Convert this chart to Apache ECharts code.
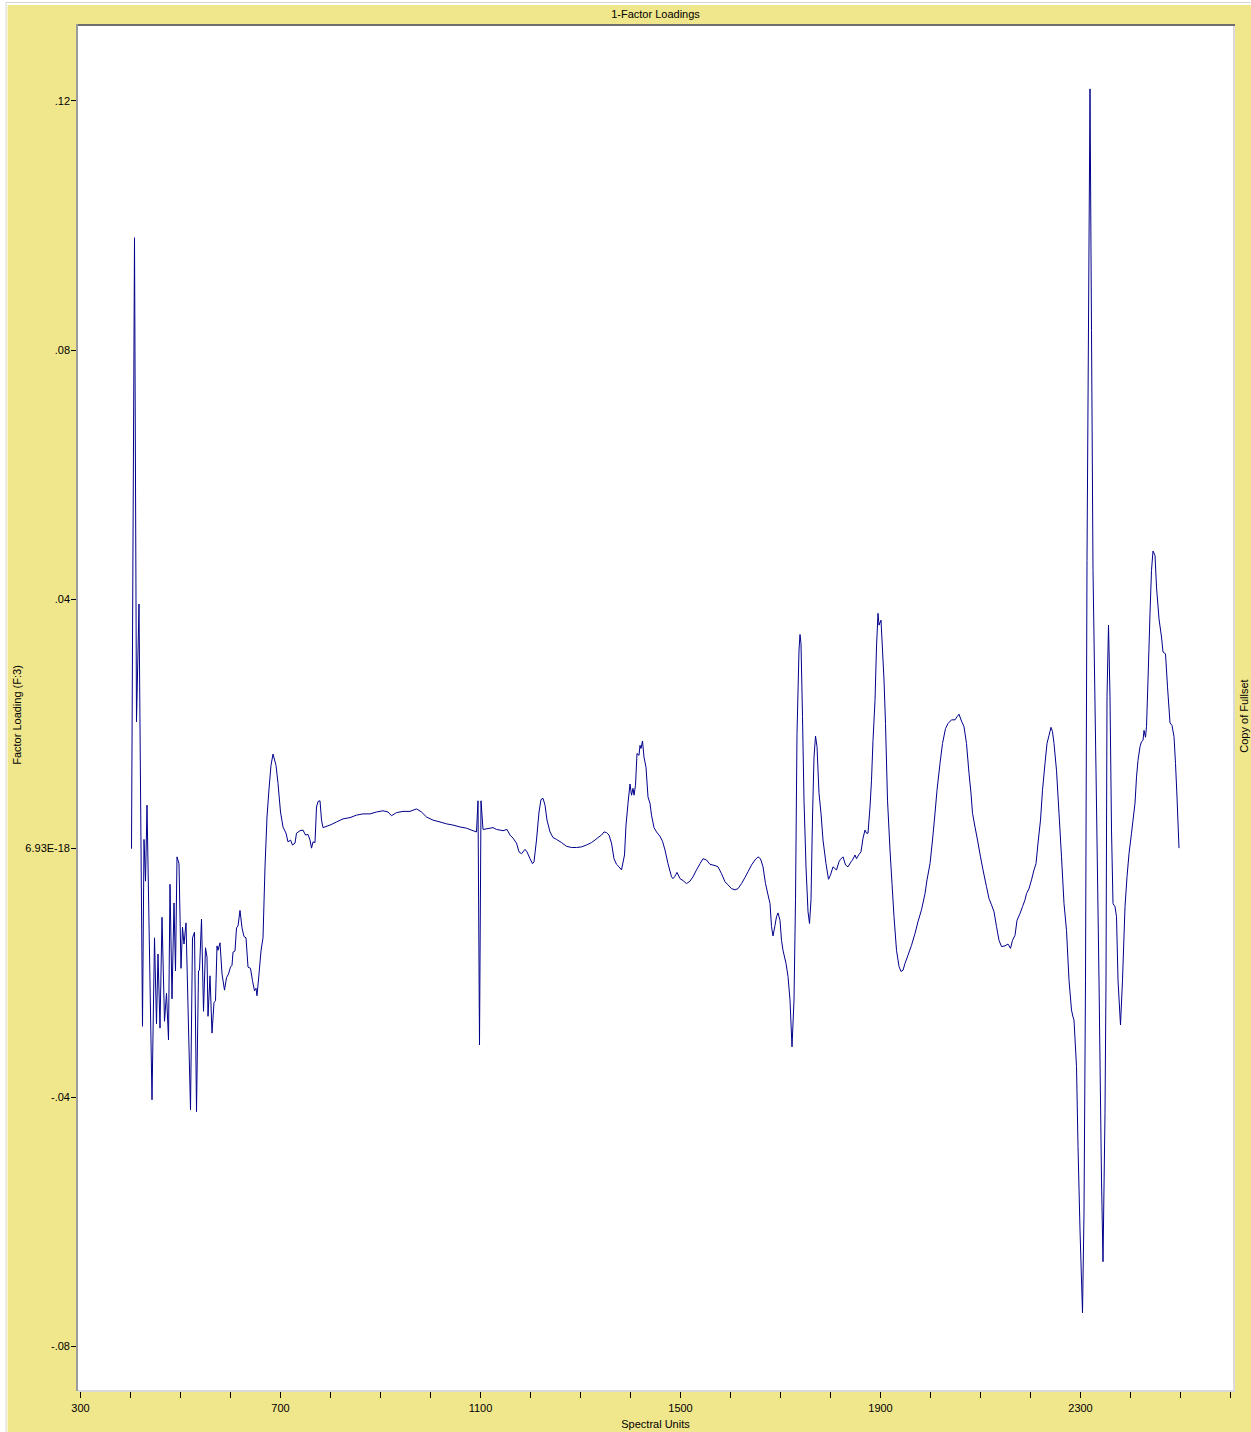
<!DOCTYPE html>
<html>
<head>
<meta charset="utf-8">
<script src="https://cdn.jsdelivr.net/npm/echarts@6/dist/echarts.min.js"></script>
<style>
  html, body { margin: 0; padding: 0; background: #fff; }
  #chart { width: 1251px; height: 1432px; }
</style>
</head>
<body>
<div id="chart"></div>
<script>
// Factor 3 loadings across the spectrum (spectral units vs. loading)
const spectralUnits = [
  402, 408, 412, 417, 424, 427, 430, 433, 443, 448, 452, 455, 459, 463, 468, 472, 476, 479, 483, 487,
  490, 493, 497, 501, 504, 507, 511, 520, 524, 528, 532, 536, 538, 542, 546, 550, 553, 555, 559, 563,
  567, 570, 573, 575, 579, 583, 588, 592, 596, 600, 603, 605, 609, 612, 615, 619, 623, 627, 631, 635,
  640, 644, 648, 651, 653, 657, 661, 665, 669, 673, 677, 681, 685, 691, 695, 700, 705, 711, 715, 720,
  724, 729, 732, 739, 745, 750, 755, 759, 762, 765, 769, 772, 775, 779, 782, 785, 799, 812, 825, 839,
  852, 865, 879, 892, 905, 915, 922, 932, 945, 959, 972, 982, 992, 1005, 1019, 1032, 1045, 1059, 1072, 1085,
  1092, 1095, 1098, 1101, 1105, 1119, 1125, 1132, 1139, 1145, 1153, 1159, 1165, 1172, 1177, 1182, 1189, 1193, 1199, 1204,
  1207, 1212, 1217, 1221, 1225, 1229, 1233, 1239, 1245, 1252, 1262, 1272, 1282, 1292, 1302, 1312, 1322, 1329, 1335, 1342,
  1347, 1352, 1357, 1362, 1367, 1372, 1377, 1382, 1388, 1391, 1395, 1399, 1402, 1405, 1407, 1410, 1413, 1417, 1419, 1421,
  1424, 1427, 1431, 1435, 1439, 1442, 1447, 1452, 1459, 1464, 1469, 1475, 1482, 1485, 1489, 1493, 1499, 1505, 1512, 1519,
  1525, 1532, 1539, 1545, 1552, 1559, 1569, 1575, 1582, 1589, 1595, 1602, 1609, 1615, 1622, 1629, 1635, 1642, 1649, 1655,
  1660, 1665, 1670, 1675, 1679, 1682, 1685, 1689, 1692, 1695, 1699, 1702, 1705, 1711, 1715, 1719, 1723, 1727, 1730, 1733,
  1737, 1739, 1741, 1744, 1747, 1751, 1755, 1758, 1761, 1764, 1767, 1770, 1773, 1777, 1781, 1785, 1791, 1796, 1800, 1805,
  1812, 1817, 1820, 1825, 1830, 1835, 1841, 1844, 1849, 1852, 1857, 1861, 1865, 1869, 1872, 1875, 1879, 1882, 1885, 1889,
  1892, 1895, 1897, 1901, 1904, 1907, 1910, 1914, 1919, 1923, 1927, 1932, 1937, 1941, 1945, 1949, 1955, 1962, 1969, 1975,
  1982, 1989, 1993, 1999, 2004, 2009, 2013, 2019, 2024, 2030, 2035, 2042, 2049, 2053, 2057, 2062, 2067, 2072, 2077, 2081,
  2084, 2089, 2094, 2100, 2105, 2112, 2117, 2122, 2127, 2132, 2137, 2142, 2149, 2155, 2160, 2164, 2169, 2173, 2179, 2184,
  2189, 2192, 2197, 2202, 2207, 2211, 2215, 2220, 2224, 2229, 2233, 2237, 2241, 2244, 2247, 2252, 2257, 2262, 2267, 2272,
  2277, 2282, 2285, 2287, 2292, 2295, 2299, 2304, 2307, 2310, 2313, 2319, 2322, 2325, 2331, 2337, 2342, 2345, 2349, 2351,
  2353, 2356, 2359, 2362, 2365, 2369, 2372, 2375, 2380, 2384, 2389, 2393, 2397, 2402, 2405, 2409, 2412, 2415, 2419, 2422,
  2425, 2427, 2430, 2432, 2435, 2439, 2442, 2445, 2449, 2452, 2457, 2462, 2465, 2470, 2474, 2479, 2483, 2487, 2490, 2493,
  2497
];

const factorLoadings = [
  -0.0001, 0.0980, 0.0203, 0.0392, -0.0286, 0.0014, -0.0053, 0.0069, -0.0404, -0.0144, -0.0282, -0.0170, -0.0289, -0.0111, -0.0278, -0.0233, -0.0308, -0.0058, -0.0242, -0.0088,
  -0.0197, -0.0014, -0.0025, -0.0193, -0.0127, -0.0154, -0.0120, -0.0420, -0.0144, -0.0135, -0.0423, -0.0197, -0.0196, -0.0114, -0.0262, -0.0160, -0.0175, -0.0270, -0.0205, -0.0297,
  -0.0248, -0.0245, -0.0157, -0.0164, -0.0152, -0.0202, -0.0228, -0.0208, -0.0202, -0.0191, -0.0188, -0.0167, -0.0165, -0.0128, -0.0125, -0.0100, -0.0128, -0.0142, -0.0144, -0.0191,
  -0.0193, -0.0213, -0.0229, -0.0225, -0.0237, -0.0202, -0.0165, -0.0144, -0.0030, 0.0050, 0.0095, 0.0133, 0.0151, 0.0133, 0.0104, 0.0058, 0.0034, 0.0024, 0.0010, 0.0013,
  0.0005, 0.0008, 0.0024, 0.0028, 0.0029, 0.0021, 0.0022, 0.0013, 0.0000, 0.0010, 0.0009, 0.0066, 0.0075, 0.0076, 0.0045, 0.0033, 0.0037, 0.0042, 0.0047, 0.0049,
  0.0053, 0.0055, 0.0055, 0.0058, 0.0060, 0.0058, 0.0052, 0.0057, 0.0059, 0.0059, 0.0063, 0.0058, 0.0050, 0.0045, 0.0042, 0.0039, 0.0037, 0.0034, 0.0032, 0.0028,
  0.0026, 0.0076, -0.0316, 0.0076, 0.0030, 0.0032, 0.0033, 0.0030, 0.0029, 0.0028, 0.0030, 0.0021, 0.0016, 0.0008, -0.0006, -0.0009, -0.0002, -0.0006, -0.0017, -0.0025,
  -0.0022, 0.0013, 0.0058, 0.0078, 0.0080, 0.0069, 0.0045, 0.0026, 0.0017, 0.0014, 0.0009, 0.0003, 0.0001, 0.0001, 0.0002, 0.0005, 0.0009, 0.0013, 0.0017, 0.0021,
  0.0026, 0.0025, 0.0021, 0.0008, -0.0017, -0.0026, -0.0030, -0.0035, -0.0011, 0.0037, 0.0072, 0.0103, 0.0085, 0.0096, 0.0085, 0.0101, 0.0152, 0.0149, 0.0165, 0.0160,
  0.0172, 0.0146, 0.0130, 0.0082, 0.0072, 0.0053, 0.0033, 0.0026, 0.0019, 0.0011, -0.0003, -0.0025, -0.0046, -0.0049, -0.0045, -0.0039, -0.0049, -0.0052, -0.0057, -0.0053,
  -0.0046, -0.0035, -0.0025, -0.0017, -0.0019, -0.0026, -0.0028, -0.0030, -0.0041, -0.0054, -0.0059, -0.0065, -0.0067, -0.0065, -0.0057, -0.0047, -0.0038, -0.0027, -0.0019, -0.0014,
  -0.0017, -0.0030, -0.0057, -0.0075, -0.0089, -0.0126, -0.0141, -0.0124, -0.0110, -0.0104, -0.0116, -0.0148, -0.0164, -0.0185, -0.0206, -0.0244, -0.0319, -0.0244, -0.0083, 0.0184,
  0.0318, 0.0343, 0.0328, 0.0211, 0.0077, -0.0030, -0.0102, -0.0121, -0.0083, 0.0050, 0.0146, 0.0180, 0.0163, 0.0088, 0.0056, 0.0013, -0.0025, -0.0050, -0.0043, -0.0030,
  -0.0035, -0.0022, -0.0018, -0.0014, -0.0027, -0.0030, -0.0022, -0.0019, -0.0011, -0.0017, -0.0010, -0.0006, 0.0016, 0.0029, 0.0024, 0.0024, 0.0066, 0.0109, 0.0173, 0.0237,
  0.0323, 0.0377, 0.0358, 0.0366, 0.0318, 0.0270, 0.0200, 0.0077, -0.0003, -0.0057, -0.0110, -0.0164, -0.0190, -0.0198, -0.0196, -0.0185, -0.0172, -0.0156, -0.0137, -0.0118,
  -0.0099, -0.0073, -0.0051, -0.0025, 0.0013, 0.0056, 0.0093, 0.0136, 0.0168, 0.0192, 0.0200, 0.0206, 0.0206, 0.0211, 0.0215, 0.0204, 0.0195, 0.0168, 0.0120, 0.0088,
  0.0056, 0.0034, 0.0013, -0.0014, -0.0035, -0.0062, -0.0081, -0.0091, -0.0102, -0.0126, -0.0148, -0.0158, -0.0157, -0.0154, -0.0161, -0.0148, -0.0140, -0.0116, -0.0105, -0.0094,
  -0.0083, -0.0073, -0.0065, -0.0051, -0.0035, -0.0025, 0.0008, 0.0045, 0.0093, 0.0136, 0.0168, 0.0181, 0.0194, 0.0187, 0.0168, 0.0125, 0.0056, -0.0014, -0.0089, -0.0132,
  -0.0212, -0.0260, -0.0271, -0.0276, -0.0351, -0.0479, -0.0613, -0.0746, -0.0586, -0.0212, 0.0462, 0.1219, 0.0831, 0.0446, 0.0125, -0.0212, -0.0533, -0.0664, -0.0425, -0.0212,
  0.0243, 0.0358, 0.0243, 0.0029, -0.0089, -0.0094, -0.0110, -0.0212, -0.0284, -0.0212, -0.0094, -0.0046, -0.0009, 0.0024, 0.0045, 0.0072, 0.0114, 0.0141, 0.0163, 0.0171,
  0.0173, 0.0189, 0.0178, 0.0195, 0.0270, 0.0377, 0.0446, 0.0477, 0.0470, 0.0419, 0.0368, 0.0339, 0.0315, 0.0312, 0.0259, 0.0201, 0.0197, 0.0179, 0.0136, 0.0082,
  0.0000
];

// Axis ticks and labels
const xTickValues = [300, 400, 500, 600, 700, 800, 900, 1000, 1100, 1200, 1300, 1400, 1500,
                     1600, 1700, 1800, 1900, 2000, 2100, 2200, 2300, 2400, 2500, 2600];
const xLabelValues = [300, 700, 1100, 1500, 1900, 2300];
const yTickValues = [-0.08, -0.04, 0, 0.04, 0.08, 0.12];
const yTickLabels = ['-.08', '-.04', '6.93E-18', '.04', '.08', '.12'];

const FONT = "'Liberation Sans', Arial, Helvetica, sans-serif";
const PANEL = '#F0E68C';

const chart = echarts.init(document.getElementById('chart'), null, { renderer: 'svg' });

const plot = { left: 78, top: 26, right: 1233, bottom: 1390 };

chart.setOption({
  animation: false,
  backgroundColor: PANEL,
  grid: {
    left: plot.left, top: plot.top,
    width: plot.right - plot.left, height: plot.bottom - plot.top,
    show: true, backgroundColor: '#ffffff', borderWidth: 0
  },
  xAxis: {
    type: 'value', min: 295, max: 2605, position: 'bottom',
    axisLine: { show: false, onZero: false },
    splitLine: { show: false },
    axisTick: { show: true, customValues: xTickValues, length: 8, lineStyle: { color: '#000', width: 1 } },
    axisLabel: {
      customValues: xLabelValues, margin: 12, color: '#000', fontSize: 11, fontFamily: FONT,
      formatter: function (v) { return String(v); }
    }
  },
  yAxis: {
    type: 'value', min: -0.087, max: 0.132, position: 'left',
    axisLine: { show: false, onZero: false },
    splitLine: { show: false },
    axisTick: { show: true, customValues: yTickValues, length: 7, lineStyle: { color: '#000', width: 1 } },
    axisLabel: {
      customValues: yTickValues, margin: 8, color: '#000', fontSize: 11, fontFamily: FONT,
      formatter: function (v) {
        const i = yTickValues.findIndex(t => Math.abs(t - v) < 1e-9);
        return i >= 0 ? yTickLabels[i] : '';
      }
    }
  },
  series: [{
    type: 'line',
    data: spectralUnits.map((x, i) => [x, factorLoadings[i]]),
    showSymbol: false,
    symbol: 'none',
    lineStyle: { color: '#00008B', width: 1 },
    emphasis: { disabled: true },
    z: 5
  }],
  graphic: [
    // outer page frame
    { type: 'rect', silent: true, shape: { x: 0, y: 0, width: 1251, height: 5 }, style: { fill: '#ffffff' } },
    { type: 'rect', silent: true, shape: { x: 0, y: 0, width: 7.5, height: 1432 }, style: { fill: '#ffffff' } },
    { type: 'line', silent: true, shape: { x1: 6, y1: 2.5, x2: 1251, y2: 2.5 }, style: { stroke: '#d8d8d8', lineWidth: 1 } },
    { type: 'line', silent: true, shape: { x1: 6, y1: 2, x2: 6, y2: 1432 }, style: { stroke: '#d8d8d8', lineWidth: 1 } },
    // bevelled plot border
    { type: 'line', silent: true, z: 50, shape: { x1: 76, y1: 25, x2: 1235, y2: 25 }, style: { stroke: '#6e6e6e', lineWidth: 2 } },
    { type: 'line', silent: true, z: 50, shape: { x1: 77, y1: 24, x2: 77, y2: 1391 }, style: { stroke: '#9c9c9c', lineWidth: 2 } },
    { type: 'line', silent: true, z: 50, shape: { x1: 78, y1: 1391, x2: 1235, y2: 1391 }, style: { stroke: '#dadada', lineWidth: 2 } },
    { type: 'line', silent: true, z: 50, shape: { x1: 1234, y1: 26, x2: 1234, y2: 1392 }, style: { stroke: '#dadada', lineWidth: 2 } },
    // titles
    { type: 'text', silent: true, x: 655.5, y: 14,
      style: { text: '1-Factor Loadings', fill: '#000', font: '11px ' + FONT, align: 'center', verticalAlign: 'middle' } },
    { type: 'text', silent: true, x: 655.5, y: 1424,
      style: { text: 'Spectral Units', fill: '#000', font: '11px ' + FONT, align: 'center', verticalAlign: 'middle' } },
    { type: 'text', silent: true, x: 17, y: 715, rotation: Math.PI / 2,
      style: { text: 'Factor Loading (F:3)', fill: '#000', font: '11px ' + FONT, align: 'center', verticalAlign: 'middle' } },
    { type: 'text', silent: true, x: 1244, y: 716, rotation: Math.PI / 2,
      style: { text: 'Copy of Fullset', fill: '#000', font: '11px ' + FONT, align: 'center', verticalAlign: 'middle' } }
  ]
});
</script>
</body>
</html>
